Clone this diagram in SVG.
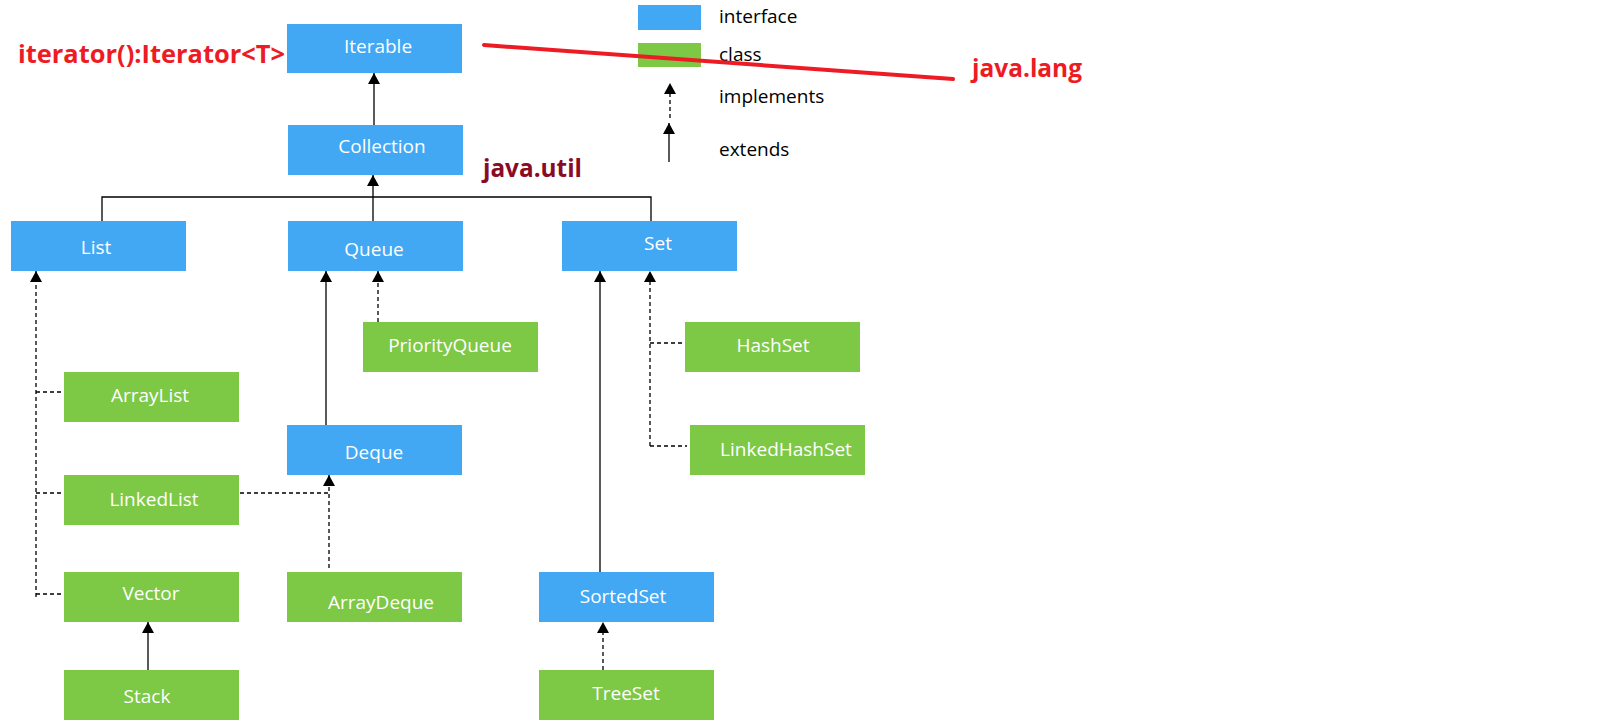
<svg xmlns="http://www.w3.org/2000/svg" width="1621" height="727" viewBox="0 0 1621 727">
<style>
.i{fill:#42a8f4}
.c{fill:#7dc845}
.t{font-family:"Open Sans","Noto Sans",sans-serif;font-size:19px;fill:#fff;text-anchor:middle}
.lg{font-family:"Open Sans","Noto Sans",sans-serif;font-size:19px;fill:#000}
.s{fill:none;stroke:#000;stroke-width:1.3}
.d{fill:none;stroke:#000;stroke-width:1.3;stroke-dasharray:4 3}
.r{font-family:"Open Sans","Noto Sans",sans-serif;font-weight:bold;font-size:25px;fill:#ed1c24}
</style>
<defs>
<marker id="a" viewBox="0 0 11 12" refX="11" refY="6" markerWidth="11" markerHeight="12" markerUnits="userSpaceOnUse" orient="auto">
<path d="M0,0 L11,6 L0,12 Z" fill="#000"/>
</marker>
</defs>
<rect width="1621" height="727" fill="#fff"/>

<g id="legend">
<rect x="638" y="5" width="63" height="25" class="i"/>
<rect x="638" y="43" width="63" height="24" class="c"/>
<text x="719" y="23" class="lg">interface</text>
<text x="719" y="61" class="lg">class</text>
<text x="719" y="103" class="lg">implements</text>
<text x="719" y="156" class="lg">extends</text>
<path d="M670,118 V83" class="d" marker-end="url(#a)"/>
<path d="M669,162 V123" class="s" marker-end="url(#a)"/>
</g>

<g id="connectors">
<path d="M374,125 V73" class="s" marker-end="url(#a)"/>
<path d="M373,221 V175" class="s" marker-end="url(#a)"/>
<path d="M102,221 V197 H651 V221" class="s"/>
<path d="M326,425 V271" class="s" marker-end="url(#a)"/>
<path d="M378,322 V271" class="d" marker-end="url(#a)"/>
<path d="M36,597 V271" class="d" marker-end="url(#a)"/>
<path d="M36,392 H61 M36,493 H61 M36,594 H61" class="d"/>
<path d="M240,493 H329" class="d"/>
<path d="M329,568 V475" class="d" marker-end="url(#a)"/>
<path d="M148,670 V622" class="s" marker-end="url(#a)"/>
<path d="M600,572 V271" class="s" marker-end="url(#a)"/>
<path d="M650,446 V271" class="d" marker-end="url(#a)"/>
<path d="M650,343 H682 M650,446 H687" class="d"/>
<path d="M603,670 V622" class="d" marker-end="url(#a)"/>
</g>

<g id="Iterable"><rect x="287" y="24" width="175" height="49" class="i"/><text x="378" y="53" class="t">Iterable</text></g>
<g id="Collection"><rect x="288" y="125" width="175" height="50" class="i"/><text x="382" y="153" class="t">Collection</text></g>
<g id="List"><rect x="11" y="221" width="175" height="50" class="i"/><text x="96" y="254" class="t">List</text></g>
<g id="Queue"><rect x="288" y="221" width="175" height="50" class="i"/><text x="374" y="256" class="t">Queue</text></g>
<g id="Set"><rect x="562" y="221" width="175" height="50" class="i"/><text x="658" y="250" class="t">Set</text></g>
<g id="PriorityQueue"><rect x="363" y="322" width="175" height="50" class="c"/><text x="450" y="352" class="t">PriorityQueue</text></g>
<g id="ArrayList"><rect x="64" y="372" width="175" height="50" class="c"/><text x="150" y="402" class="t">ArrayList</text></g>
<g id="Deque"><rect x="287" y="425" width="175" height="50" class="i"/><text x="374" y="459" class="t">Deque</text></g>
<g id="LinkedList"><rect x="64" y="475" width="175" height="50" class="c"/><text x="154" y="506" class="t">LinkedList</text></g>
<g id="Vector"><rect x="64" y="572" width="175" height="50" class="c"/><text x="151" y="600" class="t">Vector</text></g>
<g id="ArrayDeque"><rect x="287" y="572" width="175" height="50" class="c"/><text x="381" y="609" class="t">ArrayDeque</text></g>
<g id="Stack"><rect x="64" y="670" width="175" height="50" class="c"/><text x="147" y="703" class="t">Stack</text></g>
<g id="HashSet"><rect x="685" y="322" width="175" height="50" class="c"/><text x="773" y="352" class="t">HashSet</text></g>
<g id="LinkedHashSet"><rect x="690" y="425" width="175" height="50" class="c"/><text x="786" y="456" class="t">LinkedHashSet</text></g>
<g id="SortedSet"><rect x="539" y="572" width="175" height="50" class="i"/><text x="623" y="603" class="t">SortedSet</text></g>
<g id="TreeSet"><rect x="539" y="670" width="175" height="50" class="c"/><text x="626" y="700" class="t">TreeSet</text></g>

<g id="annotations">
<text x="18" y="63" class="r" textLength="267" lengthAdjust="spacingAndGlyphs">iterator():Iterator&lt;T&gt;</text>
<text x="483" y="177" class="r" style="fill:#8a0b24" textLength="99" lengthAdjust="spacingAndGlyphs">java.util</text>
<text x="972" y="77" class="r" textLength="110" lengthAdjust="spacingAndGlyphs">java.lang</text>
<path d="M484,45 L953,79" stroke="#ed1c24" stroke-width="4" stroke-linecap="round" fill="none"/>
</g>
</svg>
